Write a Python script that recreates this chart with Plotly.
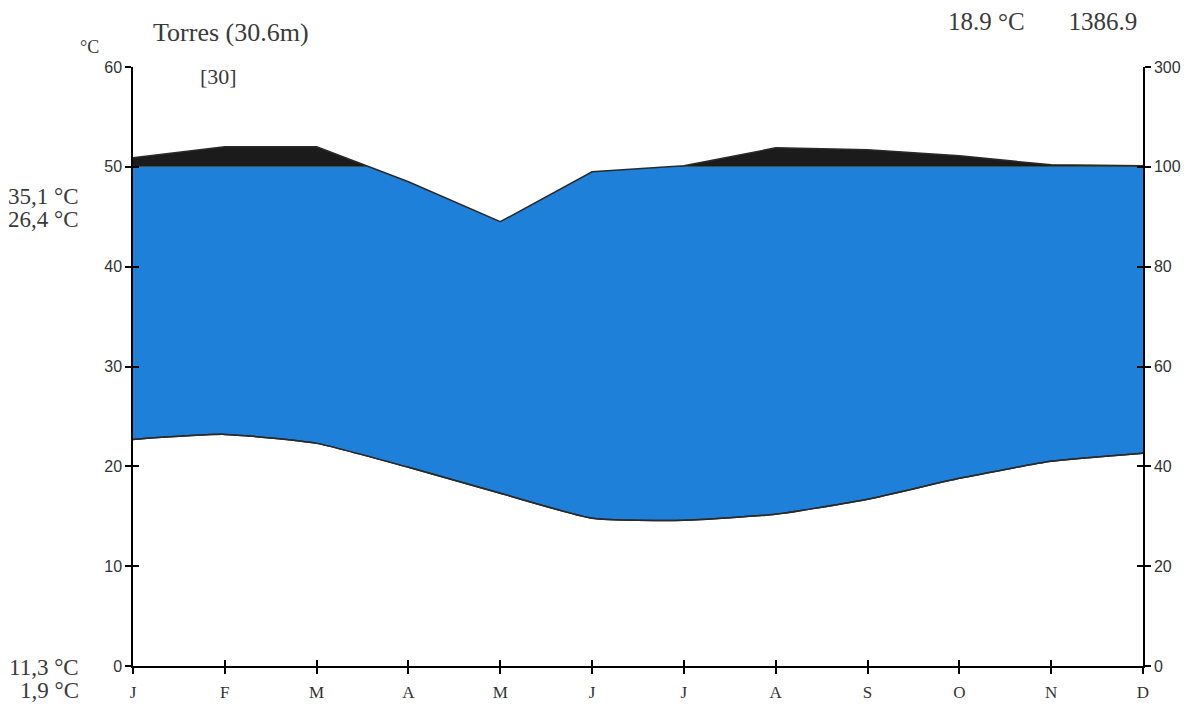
import numpy as np
import plotly.graph_objects as go

# Climate diagram (Walter & Lieth style) for Torres
months = ["J", "F", "M", "A", "M", "J", "J", "A", "S", "O", "N", "D"]
temp_c = [22.7, 23.2, 22.3, 19.9, 17.3, 14.8, 14.6, 15.2, 16.7, 18.8, 20.5, 21.3]
precip_mm = [118, 140, 140, 97, 89, 99, 102, 138, 134, 122, 104, 102]

temp_ticks = [0, 10, 20, 30, 40, 50, 60]
precip_tick_text = ["0", "20", "40", "60", "80", "100", "300"]

station = "Torres (30.6m)"
years = "[30]"
annual = "18.9 °C" + "\u00a0" * 7 + "1386.9"
left_top = ["35,1 °C", "26,4 °C"]
left_bottom = ["11,3 °C", "1,9 °C"]

BLUE = "#1f80d9"
DARK = "#1b1b1b"
LINE = "#2a2a2a"


def precip_to_axis(p):
    """Map precipitation onto the temperature axis: 20 mm per 10 °C up to 100 mm,
    then 200 mm per 10 °C above it."""
    p = np.asarray(p, dtype=float)
    return np.where(p <= 100, p / 2.0, 50.0 + (p - 100.0) / 20.0)


x = np.arange(len(months), dtype=float)
ps = precip_to_axis(precip_mm)

# add the points where the precipitation line crosses the 100 mm level
xa, ya = [x[0]], [ps[0]]
for i in range(len(x) - 1):
    a, b = ps[i], ps[i + 1]
    if (a - 50) * (b - 50) < 0:
        t = (50 - a) / (b - a)
        xa.append(x[i] + t)
        ya.append(50.0)
    xa.append(x[i + 1])
    ya.append(b)
xa = np.array(xa)
ya = np.array(ya)

fig = go.Figure()

# humid period: between temperature and precipitation (capped at 100 mm)
fig.add_trace(go.Scatter(x=x, y=temp_c, mode="lines",
                         line=dict(color=LINE, width=1.5, shape="spline", smoothing=0.5),
                         hoverinfo="skip", showlegend=False))
fig.add_trace(go.Scatter(x=xa, y=np.minimum(ya, 50), mode="lines",
                         line=dict(color=LINE, width=0),
                         fill="tonexty", fillcolor=BLUE,
                         hoverinfo="skip", showlegend=False))

# perhumid part above 100 mm
fig.add_trace(go.Scatter(x=[0, 11], y=[50, 50], mode="lines",
                         line=dict(width=0), hoverinfo="skip", showlegend=False))
fig.add_trace(go.Scatter(x=xa, y=np.maximum(ya, 50), mode="lines",
                         line=dict(width=0),
                         fill="tonexty", fillcolor=DARK,
                         hoverinfo="skip", showlegend=False))

# outlines
fig.add_trace(go.Scatter(x=xa, y=ya, mode="lines",
                         line=dict(color=LINE, width=1.5),
                         hoverinfo="skip", showlegend=False))
fig.add_trace(go.Scatter(x=x, y=temp_c, mode="lines",
                         line=dict(color=LINE, width=1.5, shape="spline", smoothing=0.5),
                         hoverinfo="skip", showlegend=False))

serif = "Liberation Serif, Times New Roman, serif"
sans = "Liberation Sans, Arial, sans-serif"

axis_common = dict(showgrid=False, zeroline=False, tickcolor="black", tickwidth=1.5,
                   automargin=False)
line_style = dict(linecolor="black", linewidth=1.5)

fig.update_layout(
    width=1191, height=704,
    margin=dict(l=133, r=48, t=67, b=38),
    paper_bgcolor="white", plot_bgcolor="white",
    xaxis=dict(range=[0, 11], tickvals=list(x), ticktext=months, ticks="outside",
               ticklen=6, showline=True, fixedrange=True,
               tickfont=dict(family=serif, size=17, color="#333"),
               ticklabelstandoff=4, **axis_common, **line_style),
    xaxis2=dict(range=[0, 11], tickvals=list(x), ticks="inside", ticklen=6,
                overlaying="x", anchor="y", showticklabels=False, showline=False,
                **axis_common),
    yaxis=dict(range=[0, 60], tickvals=temp_ticks, ticks="outside", ticklen=6,
               showline=True, tickfont=dict(family=sans, size=16, color="#333"),
               **axis_common, **line_style),
    yaxis3=dict(range=[0, 60], tickvals=temp_ticks, ticks="inside", ticklen=6,
                overlaying="y", side="left", showticklabels=False, showline=False,
                **axis_common),
    yaxis2=dict(range=[0, 60], tickvals=temp_ticks, ticktext=precip_tick_text,
                ticks="outside", ticklen=6, overlaying="y", side="right", showline=True,
                anchor="x", tickfont=dict(family=sans, size=16, color="#333"),
                **axis_common, **line_style),
    yaxis4=dict(range=[0, 60], tickvals=temp_ticks, ticks="inside", ticklen=6,
                overlaying="y", side="right", showticklabels=False, showline=False,
                anchor="x", **axis_common),
)

# invisible traces so the overlay axes are drawn
for xr, yr in (("x2", "y"), ("x", "y3"), ("x", "y2"), ("x", "y4")):
    fig.add_trace(go.Scatter(x=[0], y=[0], xaxis=xr, yaxis=yr, mode="markers",
                             marker=dict(opacity=0), hoverinfo="skip", showlegend=False))

# text placed by pixel position, converted to plot-area fractions
pl, pr, pt, pb = 133, 1143, 67, 666
txt = dict(family=serif, color="#3a3a3a")
ann = [
    (station, 151, 32, 26, "left"),
    ("°C", 78, 47, 18, "left"),
    (years, 198, 76, 22, "left"),
    (annual, 1139, 21, 25, "right"),
    (left_top[0], 81, 196, 23, "right"),
    (left_top[1], 81, 219, 23, "right"),
    (left_bottom[0], 81, 667, 23, "right"),
    (left_bottom[1], 81, 690, 23, "right"),
]
for text, px, py, size, anchor in ann:
    fig.add_annotation(text=text, xref="paper", yref="paper",
                       x=(px - pl) / (pr - pl), y=(pb - py) / (pb - pt),
                       xanchor=anchor, yanchor="middle",
                       showarrow=False, font=dict(size=size, **txt))

fig.write_html("out.html")
